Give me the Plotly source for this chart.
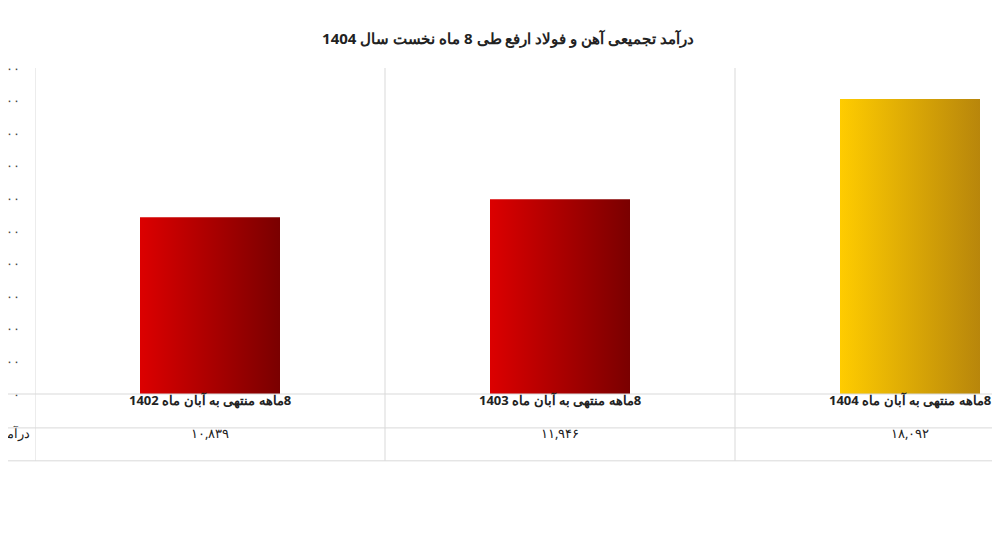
import plotly.graph_objects as go

categories = ["8ماهه منتهی به آبان ماه 1402", "8ماهه منتهی به آبان ماه 1403", "8ماهه منتهی به آبان ماه 1404"]
revenue = [10839, 11946, 18092]
value_labels = ["۱۰,۸۳۹", "۱۱,۹۴۶", "۱۸,۰۹۲"]
tick_vals = list(range(0, 20001, 2000))
title = "درآمد تجمیعی آهن و فولاد ارفع طی 8 ماه نخست سال 1404"
row_header = "درآمد"

fa = str.maketrans("0123456789", "۰۱۲۳۴۵۶۷۸۹")
tick_text = [f"{v:,}".translate(fa) for v in tick_vals]
rtl = lambda s: "\u202b" + s + "\u202c"

colors = [("#dc0000", "#7a0000"), ("#dc0000", "#7a0000"), ("#ffcc00", "#b8860b")]
hw = 0.2

fig = go.Figure()
for i, v in enumerate(revenue):
    c1, c2 = colors[i]
    fig.add_trace(go.Scatter(
        x=[i - hw, i + hw, i + hw, i - hw, i - hw], y=[0, 0, v, v, 0],
        mode="lines", line=dict(width=0), fill="toself",
        fillgradient=dict(type="horizontal", colorscale=[[0, c1], [1, c2]]),
        showlegend=False, hoverinfo="skip"))

font = "Noto Sans"
fig.update_layout(
    width=1000, height=560, paper_bgcolor="white", plot_bgcolor="white",
    margin=dict(l=27, r=0, t=60, b=174),
    font=dict(family=font, color="#222"),
    title=dict(text=f"<b>{rtl(title)}</b>", x=0.5, y=0.955, xanchor="center",
               font=dict(size=15, color="#222")),
    xaxis=dict(range=[-0.5, -0.5 + 973 / 350], showticklabels=False,
               showgrid=False, zeroline=False, fixedrange=True),
    yaxis=dict(range=[0, 20000], tickvals=tick_vals, ticktext=tick_text,
               showgrid=False, zeroline=False, automargin=False,
               tickfont=dict(size=13, color="#444"), ticklen=0,
               ticklabelstandoff=14),
)

line = dict(color="#d9d9d9", width=1)
for b in [-0.5, 0.5, 1.5]:
    fig.add_shape(type="line", xref="x", yref="paper", x0=b, x1=b, y0=-0.205, y1=1, line=line)
for yy in [0, -0.104, -0.205]:
    fig.add_shape(type="line", xref="paper", yref="paper", x0=-0.1, x1=1.1, y0=yy, y1=yy, line=line)

for i, cat in enumerate(categories):
    fig.add_annotation(x=i, y=-0.052, xref="x", yref="paper", text=f"<b>{rtl(cat)}</b>",
                       showarrow=False, font=dict(size=13, color="#222"))
    fig.add_annotation(x=i, y=-0.153, xref="x", yref="paper", text=value_labels[i],
                       showarrow=False, font=dict(size=13, color="#222"))
fig.add_annotation(x=-0.5, y=-0.153, xref="x", yref="paper", text=row_header,
                   xanchor="right", xshift=-3, showarrow=False, font=dict(size=13, color="#222"))

fig.write_html("out.html")
